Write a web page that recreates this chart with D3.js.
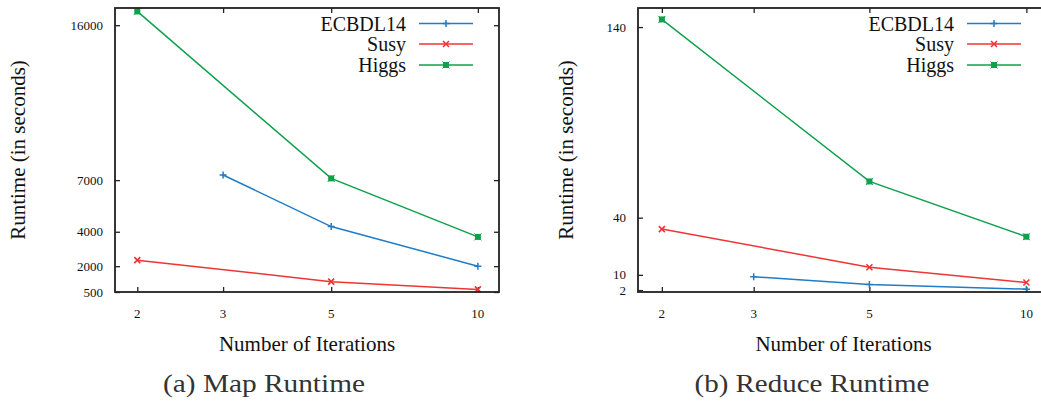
<!DOCTYPE html>
<html>
<head>
<meta charset="utf-8">
<script src="https://cdn.jsdelivr.net/npm/d3@7"></script>
<style>
  html, body { margin: 0; padding: 0; background: #fff; }
  svg { display: block; }
</style>
</head>
<body>
<svg id="chart" width="1041" height="403"></svg>
<script>
// Iteration counts on the x axis
const xTickValues = [2, 3, 5, 10];
const xTickLabels = ["2", "3", "5", "10"];
const seriesNames = ["ECBDL14", "Susy", "Higgs"];
const seriesColors = ["#1f7cc6", "#ef3434", "#0fa04c"];

// Map phase runtimes (seconds)
const mapEcbdlIters = [3, 5, 10];
const mapEcbdl = [7300, 4300, 2000];
const mapSusyIters = [2, 5, 10];
const mapSusy = [2350, 1100, 650];
const mapHiggsIters = [2, 5, 10];
const mapHiggs = [16800, 7100, 3700];
const mapYTicks = [500, 2000, 4000, 7000, 16000];

// Reduce phase runtimes (seconds)
const reduceEcbdlIters = [3, 5, 10];
const reduceEcbdl = [9, 5, 2.5];
const reduceSusyIters = [2, 5, 10];
const reduceSusy = [34, 14, 6];
const reduceHiggsIters = [2, 5, 10];
const reduceHiggs = [144, 59, 30];
const reduceYTicks = [2, 10, 40, 140];

const FONT = "Liberation Serif";
const svg = d3.select("#chart");

function marker(g, kind, x, y, color) {
  if (kind === 0) { // plus
    g.append("path").attr("d", `M${x-3.5},${y}H${x+3.5}M${x},${y-3.5}V${y+3.5}`)
      .attr("stroke", color).attr("stroke-width", 1.5).attr("fill", "none");
  } else if (kind === 1) { // cross
    g.append("path").attr("d", `M${x-3},${y-3}L${x+3},${y+3}M${x-3},${y+3}L${x+3},${y-3}`)
      .attr("stroke", color).attr("stroke-width", 1.6).attr("fill", "none");
  } else { // filled box with star
    g.append("rect").attr("x", x-3).attr("y", y-3).attr("width", 6).attr("height", 6).attr("fill", color);
    g.append("path").attr("d", `M${x-3.5},${y-3.5}L${x+3.5},${y+3.5}M${x-3.5},${y+3.5}L${x+3.5},${y-3.5}`)
      .attr("stroke", color).attr("stroke-width", 1).attr("fill", "none");
  }
}

function label(g) {
  return g.append("text").attr("font-family", FONT).attr("fill", "#111");
}

function panel(cfg) {
  const g = svg.append("g");
  const x = d3.scaleLog().domain([1.8, 11.05]).range([cfg.left, cfg.right]);
  const y = d3.scaleLinear().domain(cfg.yDomain).range([292, 8]);
  const tick = 5;

  // ticks on all four sides, pointing inward
  const xAxisB = d3.axisBottom(x).tickValues(xTickValues).tickFormat(() => "").tickSize(-tick);
  const xAxisT = d3.axisTop(x).tickValues(xTickValues).tickFormat(() => "").tickSize(-tick);
  const yAxisL = d3.axisLeft(y).tickValues(cfg.yTicks).tickFormat(() => "").tickSize(-tick);
  const yAxisR = d3.axisRight(y).tickValues(cfg.yTicks).tickFormat(() => "").tickSize(-tick);
  [[xAxisB, `translate(0,292)`], [xAxisT, `translate(0,8)`],
   [yAxisL, `translate(${cfg.left},0)`], [yAxisR, `translate(${cfg.right},0)`]].forEach(([ax, tr]) => {
    const a = g.append("g").attr("transform", tr).call(ax);
    a.select(".domain").remove();
    a.selectAll(".tick line").attr("stroke", "#222").attr("stroke-width", 1.3);
  });

  // tick labels
  xTickValues.forEach((d, i) => {
    label(g).attr("x", x(d)).attr("y", 318).attr("text-anchor", "middle")
      .attr("font-size", 13).text(xTickLabels[i]);
  });
  cfg.yTicks.forEach(d => {
    label(g).attr("x", cfg.left - 12).attr("y", y(d)).attr("dy", "0.35em")
      .attr("text-anchor", "end").attr("font-size", 13).text(d);
  });

  // series lines and markers
  cfg.series.forEach((s, k) => {
    const pts = s.iters.map((it, i) => [x(it), y(s.values[i])]);
    g.append("path").attr("d", d3.line()(pts)).attr("fill", "none")
      .attr("stroke", seriesColors[k]).attr("stroke-width", 1.5);
    pts.forEach(p => marker(g, k, p[0], p[1], seriesColors[k]));
  });

  // frame
  g.append("rect").attr("x", cfg.left).attr("y", 8)
    .attr("width", cfg.right - cfg.left).attr("height", 284)
    .attr("fill", "none").attr("stroke", "#222").attr("stroke-width", 1.8);

  // legend
  const legY = [23.5, 44, 65];
  seriesNames.forEach((name, k) => {
    label(g).attr("x", cfg.legText).attr("y", legY[k] + 7)
      .attr("text-anchor", "end").attr("font-size", 20).text(name);
    g.append("line").attr("x1", cfg.legLine).attr("x2", cfg.legLine + 54)
      .attr("y1", legY[k]).attr("y2", legY[k])
      .attr("stroke", seriesColors[k]).attr("stroke-width", 1.5);
    marker(g, k, cfg.legLine + 27, legY[k], seriesColors[k]);
  });

  // axis titles
  label(g).attr("x", (cfg.left + cfg.right) / 2).attr("y", 351)
    .attr("text-anchor", "middle").attr("font-size", 21).text("Number of Iterations");
  label(g).attr("transform", `translate(${cfg.yTitleX},150) rotate(-90)`)
    .attr("text-anchor", "middle").attr("font-size", 21).text("Runtime (in seconds)");

  // caption
  label(g).attr("x", cfg.capX).attr("y", 392).attr("text-anchor", "middle")
    .attr("font-size", 26).attr("textLength", cfg.capLen).attr("lengthAdjust", "spacingAndGlyphs")
    .attr("fill", "#333").text(cfg.caption);
}

panel({
  left: 115, right: 499, yDomain: [500, 17000], yTicks: mapYTicks,
  series: [
    { iters: mapEcbdlIters, values: mapEcbdl },
    { iters: mapSusyIters, values: mapSusy },
    { iters: mapHiggsIters, values: mapHiggs }
  ],
  legText: 406, legLine: 419, yTitleX: 25, capX: 264, capLen: 202, caption: "(a) Map Runtime"
});

panel({
  left: 638, right: 1049, yDomain: [1, 150], yTicks: reduceYTicks,
  series: [
    { iters: reduceEcbdlIters, values: reduceEcbdl },
    { iters: reduceSusyIters, values: reduceSusy },
    { iters: reduceHiggsIters, values: reduceHiggs }
  ],
  legText: 954, legLine: 967, yTitleX: 573, capX: 812, capLen: 235, caption: "(b) Reduce Runtime"
});
</script>
</body>
</html>
